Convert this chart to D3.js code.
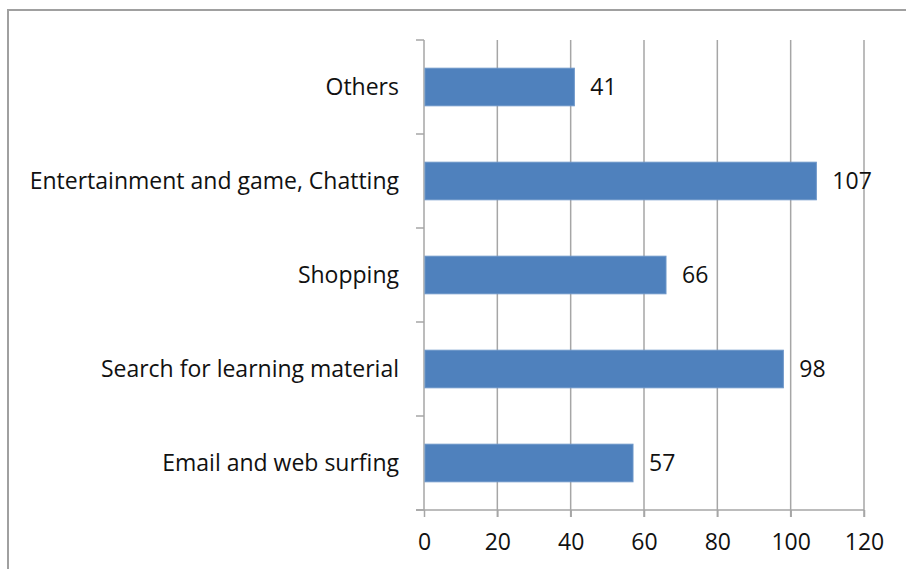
<!DOCTYPE html>
<html>
<head>
<meta charset="utf-8">
<script src="https://cdn.jsdelivr.net/npm/d3@7"></script>
<style>
  body { margin: 0; background: #fff; }
  svg text { font-family: "Open Sans", "Noto Sans", sans-serif; fill: #111; }
</style>
</head>
<body>
<div class="g-chart"></div>
<script>
// chart data
var categories = ["Others", "Entertainment and game, Chatting", "Shopping", "Search for learning material", "Email and web surfing"];
var values = [41, 107, 66, 98, 57];
var xTicks = [0, 20, 40, 60, 80, 100, 120];

function renderGraph(){
  var width = 906, height = 569,
      margin = {top: 40, right: 42, bottom: 59, left: 424};

  var svg = d3.select('.g-chart')
    .append("svg")
    .attr("width", width)
    .attr("height", height);

  // outer frame
  svg.append("rect")
    .attr("x", 8).attr("y", 10)
    .attr("width", 1000).attr("height", 1000)
    .style("fill", "none")
    .style("stroke", "#a0a0a0")
    .style("stroke-width", 2);

  var g = svg.append("g")
    .attr("transform", `translate(${margin.left},${margin.top})`);

  var innerW = width - margin.left - margin.right,
      innerH = height - margin.top - margin.bottom;

  var xScale = d3.scaleLinear().domain([0, 120]).range([0, innerW]);
  var yScale = d3.scaleBand().domain(categories).range([0, innerH]).padding(0);

  // vertical gridlines (incl. tick marks below axis)
  g.selectAll(".grid")
    .data(xTicks.filter(d => d > 0))
    .enter().append("line")
    .attr("class", "grid")
    .attr("x1", d => xScale(d)).attr("x2", d => xScale(d))
    .attr("y1", 0).attr("y2", innerH + 7)
    .style("stroke", "#a6a6a6")
    .style("stroke-width", 1.5);

  // x axis
  var xAxis = d3.axisBottom(xScale).tickValues(xTicks).tickSize(7).tickSizeOuter(0).tickPadding(17);
  var xg = g.append("g")
    .attr("transform", `translate(0,${innerH})`)
    .call(xAxis);
  xg.select(".domain").attr("d", `M-8,0H${innerW}`);
  xg.selectAll("line, path").style("stroke", "#a6a6a6").style("stroke-width", 1.5);
  xg.selectAll("text").style("font-size", "23px").style("fill", "#111")
    .style("font-family", "'Open Sans', sans-serif");

  // y axis: line + band boundary ticks
  g.append("line")
    .attr("x1", 0).attr("x2", 0).attr("y1", 0).attr("y2", innerH)
    .style("stroke", "#a6a6a6").style("stroke-width", 1.5);
  var bounds = categories.map(c => yScale(c)).concat([innerH]);
  g.selectAll(".ytick")
    .data(bounds)
    .enter().append("line")
    .attr("x1", -8).attr("x2", 0)
    .attr("y1", d => d).attr("y2", d => d)
    .style("stroke", "#a6a6a6").style("stroke-width", 1.5);

  // category labels
  g.selectAll(".cat")
    .data(categories)
    .enter().append("text")
    .attr("x", -25)
    .attr("y", d => yScale(d) + yScale.bandwidth() / 2)
    .attr("dy", "0.35em")
    .attr("text-anchor", "end")
    .style("font-size", "23px")
    .text(d => d);

  // bars
  var barH = yScale.bandwidth() * 0.4;
  g.selectAll(".bar")
    .data(values)
    .enter().append("rect")
    .attr("class", "bar")
    .attr("x", xScale(0) + 1)
    .attr("y", (d, i) => yScale(categories[i]) + (yScale.bandwidth() - barH) / 2)
    .attr("width", d => xScale(d) - xScale(0) - 1)
    .attr("height", barH)
    .style("fill", "#4f81bd")
    .style("stroke", "#6b95c8")
    .style("stroke-width", 1);

  // value labels
  g.selectAll(".val")
    .data(values)
    .enter().append("text")
    .attr("x", d => xScale(d) + 16)
    .attr("y", (d, i) => yScale(categories[i]) + yScale.bandwidth() / 2)
    .attr("dy", "0.35em")
    .style("font-size", "23px")
    .text(d => d);
}

renderGraph();
</script>
</body>
</html>
